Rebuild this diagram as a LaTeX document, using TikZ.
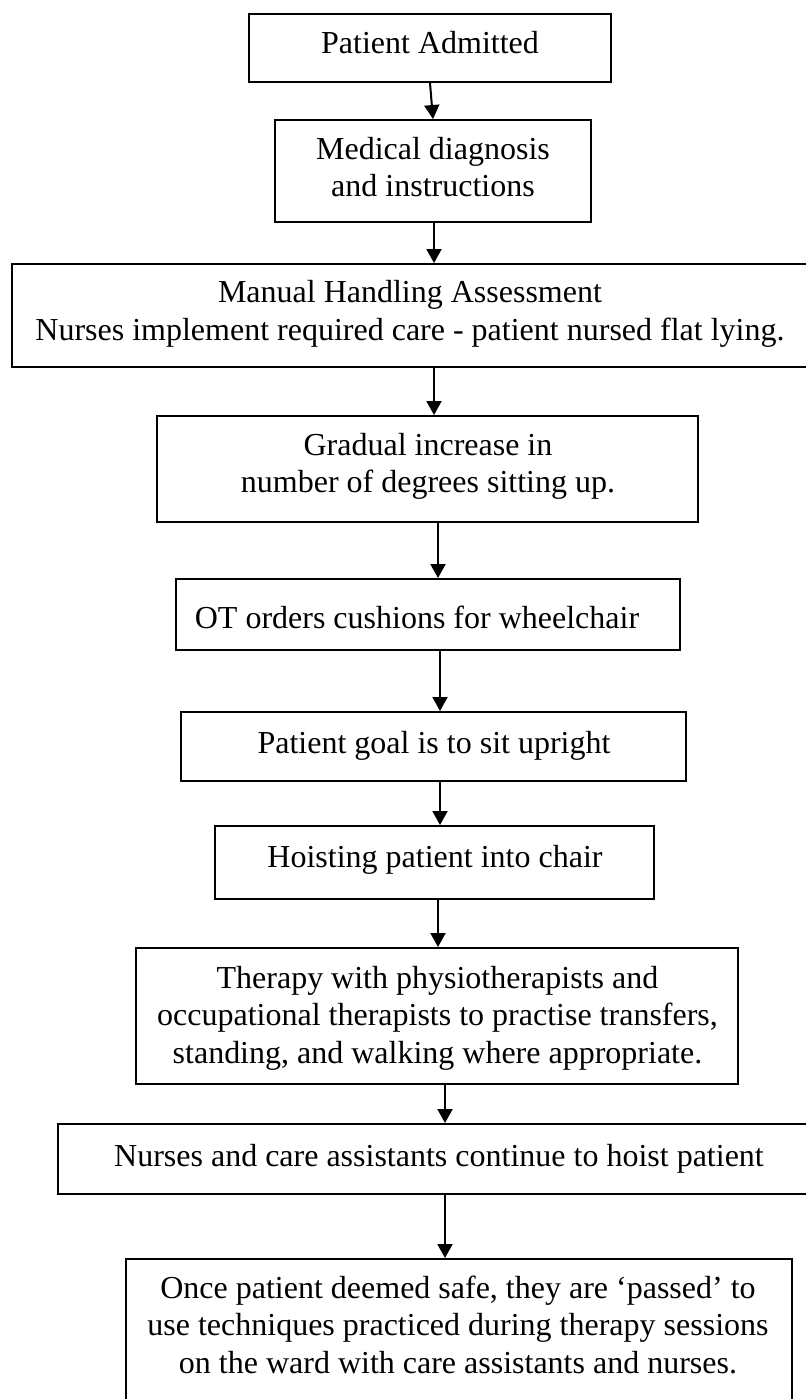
\documentclass[tikz,border=0pt]{standalone}
\usepackage{fontspec}
\setmainfont{Liberation Serif}
\usetikzlibrary{arrows.meta}

\begin{document}
\begin{tikzpicture}[x=0.5pt,y=-0.5pt,
  box/.style={draw=black,line width=1pt,rectangle,inner sep=0pt,fill=none},
  txt/.style={anchor=north,inner sep=0pt,align=center,
    font={\fontsize{16}{18.75}\selectfont}},
  flow/.style={draw=black,line width=1pt,-{Triangle[width=7.5pt,length=7pt]}}]

\useasboundingbox (0,0) rectangle (806,1399);
\clip (0,0) rectangle (806,1399);
\fill[white] (0,0) rectangle (806,1399);

% process boxes
\node[box,minimum width=181pt,minimum height=34pt]   (b1)  at (430,48) {};
\node[box,minimum width=158pt,minimum height=51pt]   (b2)  at (433,171) {};
\node[box,minimum width=404pt,minimum height=51.5pt] (b3)  at (416,315.5) {};
\node[box,minimum width=270.5pt,minimum height=53pt] (b4)  at (427.5,469) {};
\node[box,minimum width=252pt,minimum height=35.5pt] (b5)  at (428,614.5) {};
\node[box,minimum width=252.5pt,minimum height=34.5pt] (b6) at (433.5,746.5) {};
\node[box,minimum width=219.5pt,minimum height=36.5pt] (b7) at (434.5,862.5) {};
\node[box,minimum width=301pt,minimum height=68pt]   (b8)  at (437,1016) {};
\node[box,minimum width=381pt,minimum height=35pt]   (b9)  at (439,1159) {};
\node[box,minimum width=333pt,minimum height=80.5pt] (b10) at (459,1339.5) {};

% box texts (node top = first baseline - strut height)
\node[txt] (t1)  at (430,27.25)   {\strut Patient Admitted};
\node[txt] (t2)  at (433,132.75)  {\strut Medical diagnosis\\and instructions};
\node[txt] (t3)  at (410,276.25)  {\strut Manual Handling Assessment\\Nurses implement required care - patient nursed flat lying.};
\node[txt] (t4)  at (428,428.75)  {\strut Gradual increase in\\number of degrees sitting up.};
\node[txt] (t5)  at (417,601.75)  {\strut OT orders cushions for wheelchair};
\node[txt] (t6)  at (434,726.75)  {\strut Patient goal is to sit upright};
\node[txt] (t7)  at (435,840.75)  {\strut Hoisting patient into chair};
\node[txt] (t8)  at (437.5,961.75) {\strut Therapy with physiotherapists and\\occupational therapists to practise transfers,\\standing, and walking where appropriate.};
\node[txt] (t9)  at (439,1139.75) {\strut Nurses and care assistants continue to hoist patient};
\node[txt] (t10) at (458,1271.75) {\strut Once patient deemed safe, they are ‘passed’ to\\use techniques practiced during therapy sessions\\on the ward with care assistants and nurses.};

% connectors
\draw[flow] (b1.south) -- (b2.north);
\draw[flow] ([xshift=0.5pt]b2.south) -- ([xshift=9pt]b3.north);
\draw[flow] ([xshift=9pt]b3.south) -- ([xshift=3.25pt]b4.north);
\draw[flow] ([xshift=5.25pt]b4.south) -- ([xshift=5pt]b5.north);
\draw[flow] ([xshift=6pt]b5.south) -- ([xshift=3.25pt]b6.north);
\draw[flow] ([xshift=3.25pt]b6.south) -- ([xshift=2.75pt]b7.north);
\draw[flow] ([xshift=1.75pt]b7.south) -- ([xshift=0.5pt]b8.north);
\draw[flow] ([xshift=4pt]b8.south) -- ([xshift=3pt]b9.north);
\draw[flow] ([xshift=3pt]b9.south) -- ([xshift=-7pt]b10.north);
\end{tikzpicture}
\end{document}
